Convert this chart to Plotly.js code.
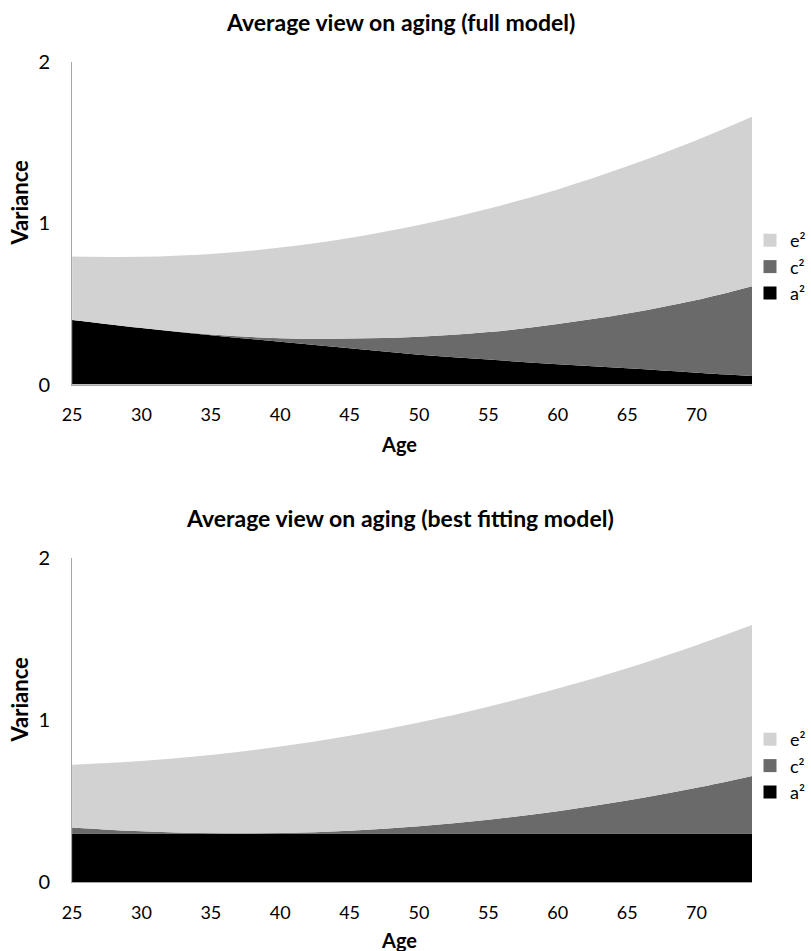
<!DOCTYPE html>
<html>
<head>
<meta charset="utf-8">
<script src="https://cdn.plot.ly/plotly-3.0.1.min.js"></script>
<style>html,body{margin:0;padding:0;background:#fff;}#chart{width:811px;height:951px;}</style>
</head>
<body>
<div id="chart"></div>
<script>
// Ages (x categories)
const ages = [25, 30, 35, 40, 45, 50, 55, 60, 65, 70, 74];
const tickAges = [25, 30, 35, 40, 45, 50, 55, 60, 65, 70];

// Full model: variance components
const fullA = [0.400, 0.350, 0.305, 0.265, 0.225, 0.185, 0.155, 0.125, 0.100, 0.073, 0.053];
const fullC = [0.000, 0.000, 0.005, 0.022, 0.060, 0.111, 0.170, 0.250, 0.340, 0.451, 0.557];
const fullE = [0.394, 0.442, 0.500, 0.562, 0.624, 0.693, 0.765, 0.835, 0.913, 0.991, 1.050];

// Best fitting model: variance components
const bestA = [0.300, 0.300, 0.300, 0.300, 0.300, 0.300, 0.300, 0.300, 0.300, 0.300, 0.300];
const bestC = [0.037, 0.013, 0.001, 0.002, 0.017, 0.044, 0.084, 0.137, 0.203, 0.282, 0.355];
const bestE = [0.387, 0.434, 0.483, 0.534, 0.586, 0.641, 0.698, 0.757, 0.817, 0.880, 0.931];

const names = ['a²', 'c²', 'e²'];
const colors = ['#000000', '#6a6a6a', '#d2d2d2'];

const FONT = 'Lato, "Open Sans", sans-serif';

function area(y, i, xa, ya, grp) {
  return {
    x: ages, y: y, xaxis: xa, yaxis: ya,
    type: 'scatter', mode: 'lines', stackgroup: grp,
    line: {width: 0, shape: 'spline', smoothing: 1, color: colors[i]},
    fillcolor: colors[i], name: names[i], showlegend: false, hoverinfo: 'x+y+name'
  };
}
function legendItem(i, leg) {
  return {
    x: [null], y: [null], xaxis: 'x', yaxis: 'y',
    type: 'scatter', mode: 'markers', name: names[i], legend: leg,
    legendgroup: leg + names[i],
    marker: {symbol: 'square', size: 13, color: colors[i]}
  };
}

const data = [
  area(fullA, 0, 'x', 'y', 'full'),
  area(fullC, 1, 'x', 'y', 'full'),
  area(fullE, 2, 'x', 'y', 'full'),
  area(bestA, 0, 'x2', 'y2', 'best'),
  area(bestC, 1, 'x2', 'y2', 'best'),
  area(bestE, 2, 'x2', 'y2', 'best'),
  legendItem(2, 'legend'), legendItem(1, 'legend'), legendItem(0, 'legend'),
  legendItem(2, 'legend2'), legendItem(1, 'legend2'), legendItem(0, 'legend2')
];

const W = 811, H = 951;
const px = v => v / W, py = v => 1 - v / H;
const X0 = 74, X1 = 772;

function xax(anchor) {
  return {
    domain: [px(X0), px(X1)], anchor: anchor, range: [25, 74],
    tickvals: tickAges, ticktext: tickAges.map(String),
    showgrid: false, zeroline: false, showline: true, linecolor: '#a6a6a6', linewidth: 1,
    ticks: '', ticklabelstandoff: 14,
    tickfont: {family: FONT, size: 18, color: '#000'},
    fixedrange: true
  };
}
function yax(anchor, dom) {
  return {
    domain: dom, anchor: anchor, range: [0, 2],
    tickvals: [0, 1, 2], ticktext: ['0', '1', '2'],
    showgrid: false, zeroline: false, showline: true, linecolor: '#a6a6a6', linewidth: 1,
    ticks: '', ticklabelstandoff: 17,
    tickfont: {family: FONT, size: 20, color: '#000'},
    fixedrange: true
  };
}
function leg(top) {
  return {
    x: px(770), xanchor: 'left', y: py(top), yanchor: 'top',
    traceorder: 'grouped', tracegroupgap: 0,
    font: {family: FONT, size: 18, color: '#000'}, bgcolor: 'rgba(0,0,0,0)'
  };
}
function txt(t, x, y, size, angle) {
  return {text: t, xref: 'paper', yref: 'paper', x: px(x), y: py(y),
    xanchor: 'center', yanchor: 'middle', showarrow: false, textangle: angle || 0,
    font: {family: FONT, size: size, color: '#000', weight: 'bold'}};
}

const layout = {
  width: W, height: H,
  margin: {l: 0, r: 0, t: 0, b: 0},
  paper_bgcolor: '#fff', plot_bgcolor: '#fff',
  showlegend: true,
  xaxis: xax('y'),
  yaxis: yax('x', [py(384.5), py(62)]),
  xaxis2: xax('y2'),
  yaxis2: yax('x2', [py(882), py(558)]),
  legend: leg(222),
  legend2: leg(721),
  annotations: [
    txt('Average view on aging (full model)', 411, 22, 23),
    txt('Average view on aging (best fitting model)', 411, 518, 23),
    txt('Age', 410, 444, 20),
    txt('Age', 410, 940, 20),
    txt('Variance', 19, 203, 22, -90),
    txt('Variance', 19, 700, 22, -90)
  ]
};

Plotly.newPlot('chart', data, layout, {displayModeBar: false, staticPlot: true});
</script>
</body>
</html>
